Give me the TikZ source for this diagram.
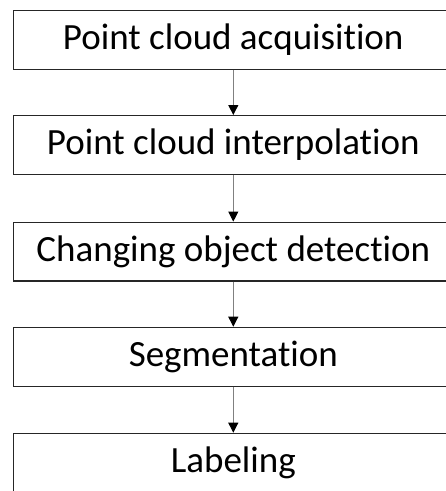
\documentclass[tikz,border=0pt]{standalone}
\usepackage{fontspec}
\setmainfont[Ligatures={NoCommon}]{Carlito}
\usetikzlibrary{positioning, arrows.meta}
\tikzset{
	stage/.style={draw=black!85, line width=1.2pt, minimum width=440pt, minimum height=58.8pt, inner sep=0pt, font=\fontsize{37}{42}\selectfont},
	every edge/.style={draw=black!50, line width=0.9pt, -{Triangle[width=10pt,length=10pt,color=black]}}
}

\begin{document}
\begin{tikzpicture}
\useasboundingbox (0,0) rectangle (446pt,-491pt);
\clip (0,0) rectangle (446pt,-491pt);
\node (acq) [stage] at (233.3pt,-39.8pt) {Point cloud acquisition};
\node (interp) [stage] at (233.3pt,-145pt) {Point cloud interpolation};
\node (detect) [stage] at (233.3pt,-251.6pt) {Changing object detection};
\node (seg) [stage] at (233.3pt,-356.7pt) {Segmentation};
\node (label) [stage] at (233.3pt,-462.7pt) {Labeling};
\draw (acq) edge (interp);
\draw (interp) edge (detect);
\draw (detect) edge (seg);
\draw (seg) edge (label);
\end{tikzpicture}
\end{document}
